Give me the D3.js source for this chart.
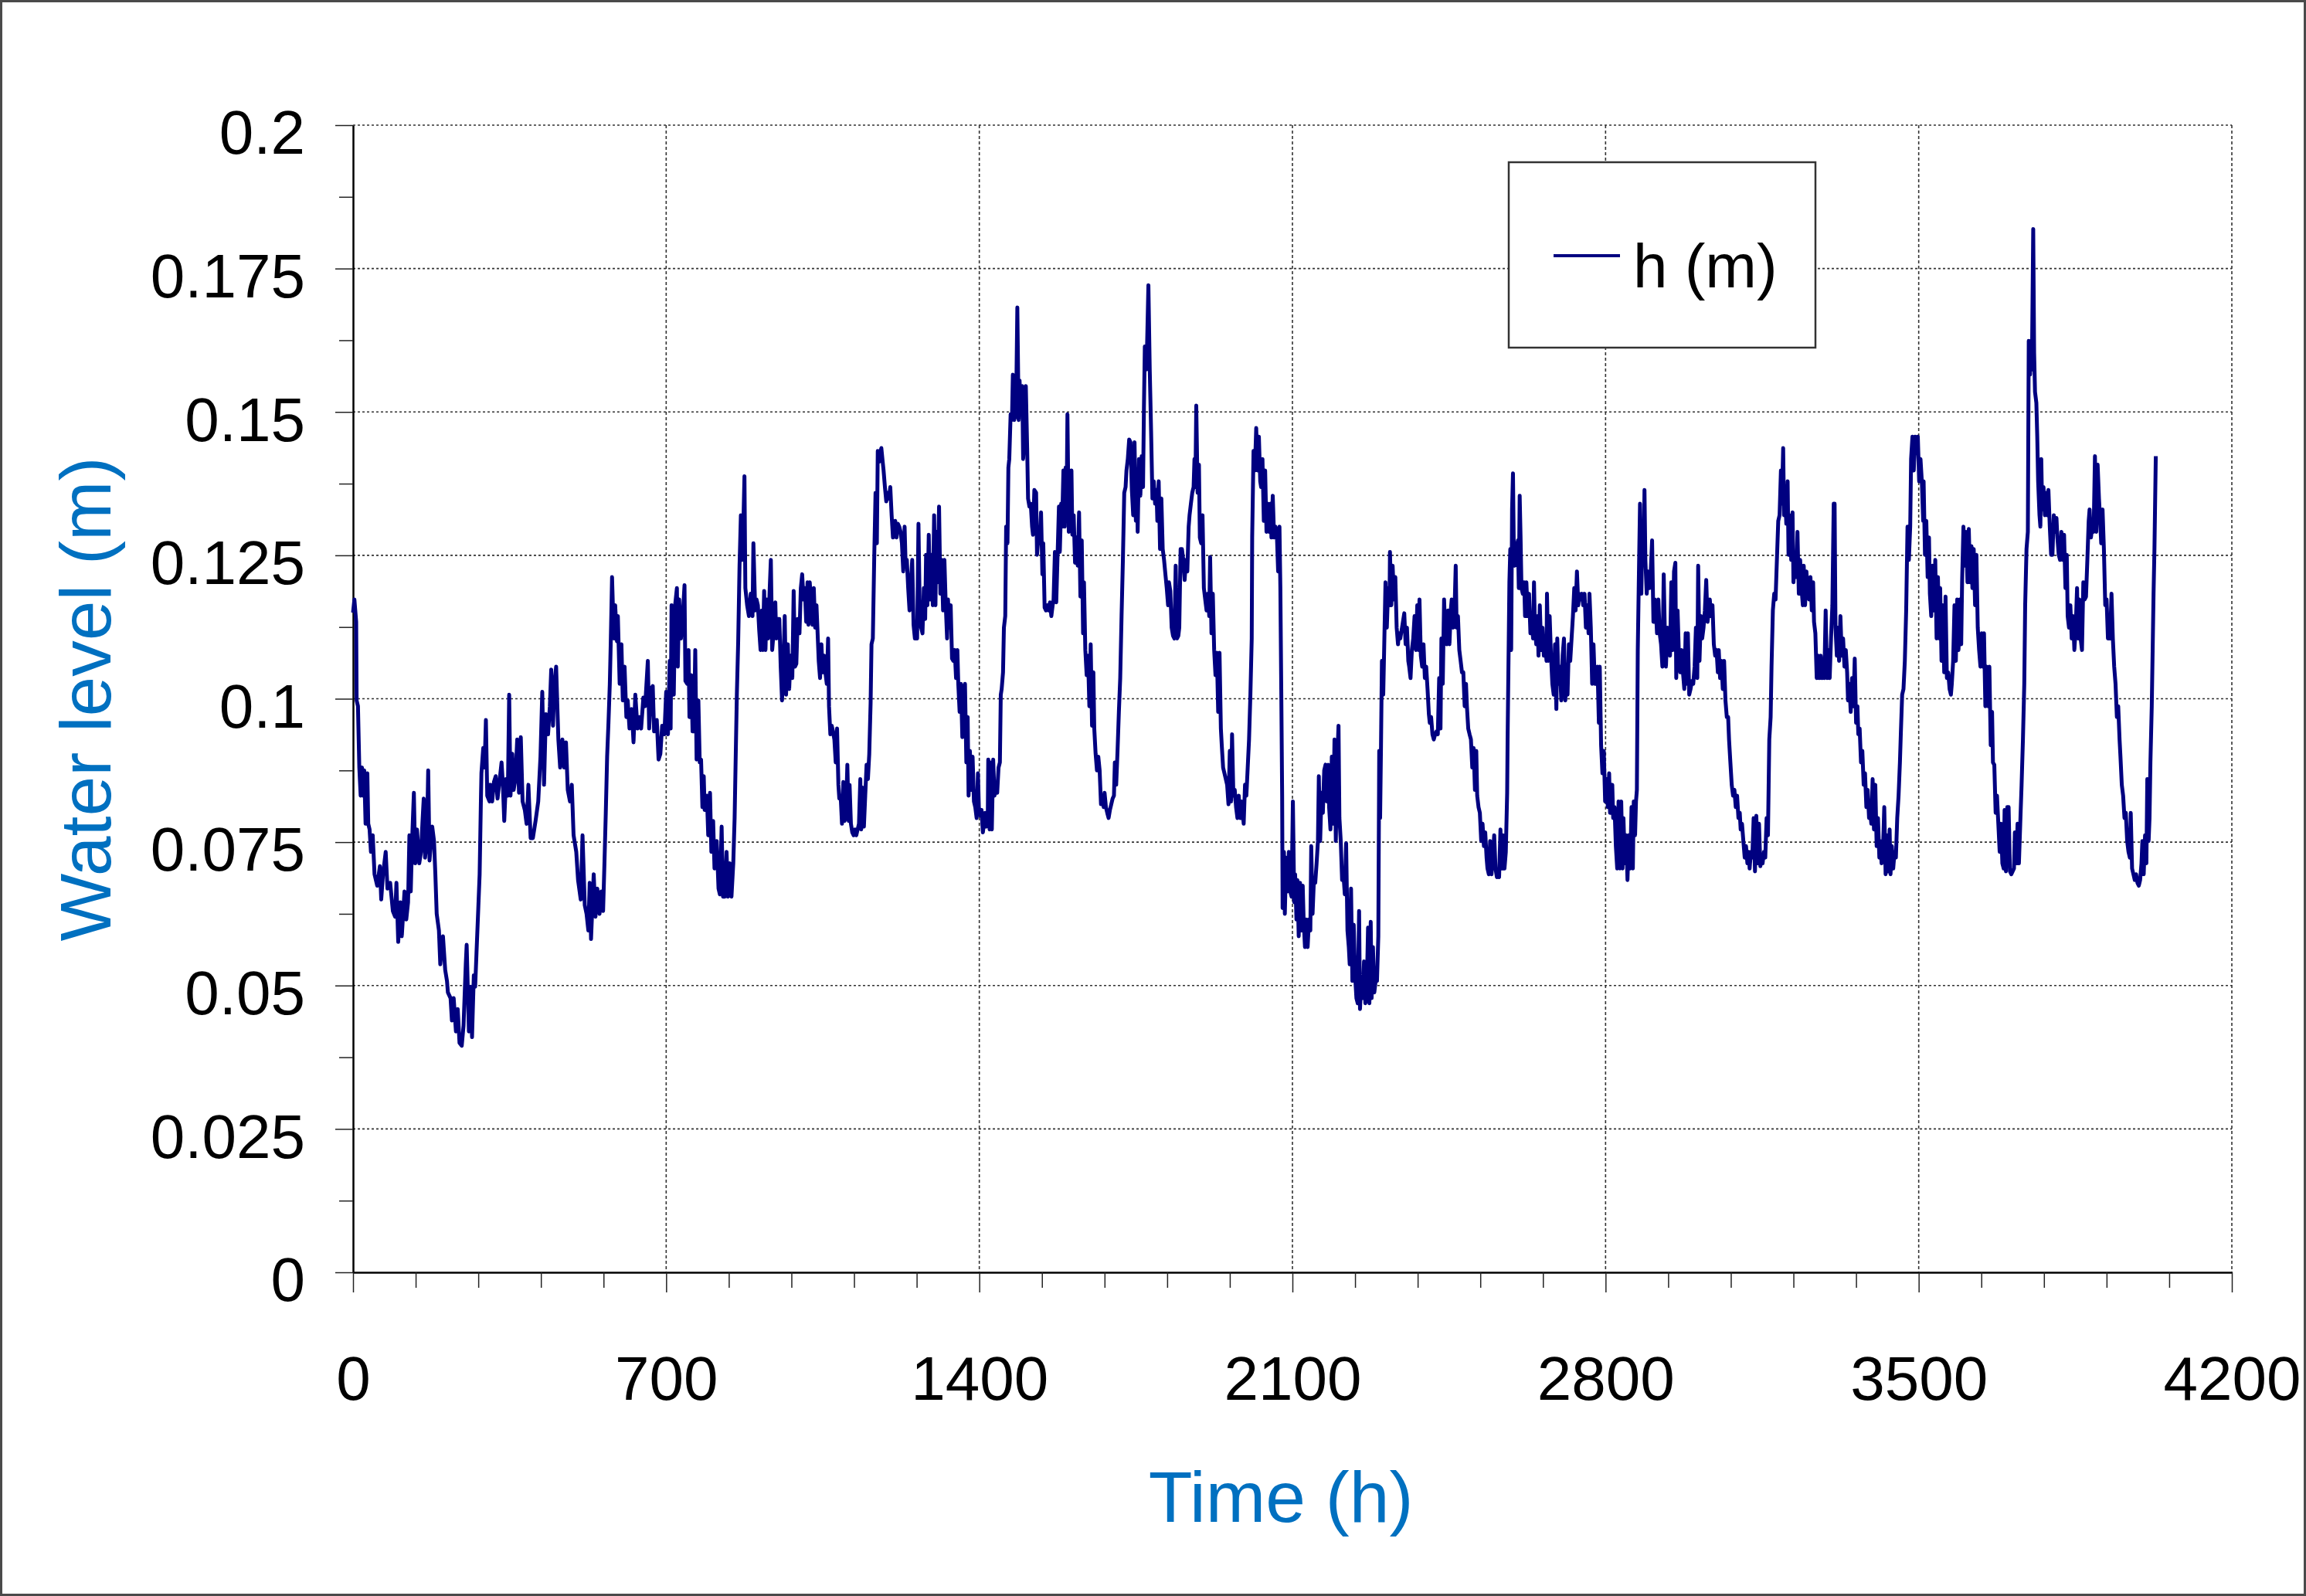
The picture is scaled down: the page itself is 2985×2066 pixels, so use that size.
<!DOCTYPE html>
<html>
<head>
<meta charset="utf-8">
<script src="https://cdn.jsdelivr.net/npm/d3@7"></script>
<style>
  body { margin: 0; background: #fff; }
  text { font-family: "Liberation Sans", Arial, sans-serif; }
</style>
</head>
<body>
<div id="chart"></div>
<script>
// water level record: [time (h), h (m)]
const readings = [
  [0,0.1150],[3,0.1173],[7,0.1134],[8,0.0997],[11,0.0987],[14,0.0880],[17,0.0831],[20,0.0880],[22,0.0831],[25,0.0875],[28,0.0782],[32,0.0870],[34,0.0782],[37,0.0772],[40,0.0733],[44,0.0762],[48,0.0694],[54,0.0674],[60,0.0708],[63,0.0650],[67,0.0694],[73,0.0733],[77,0.0669],[83,0.0679],[89,0.0630],[94,0.0620],[97,0.0679],[101,0.0576],[106,0.0645],[109,0.0586],[115,0.0664],[119,0.0615],[123,0.0645],[126,0.0762],[129,0.0664],[132,0.0752],[136,0.0836],[139,0.0713],[143,0.0772],[148,0.0713],[152,0.0733],[155,0.0782],[158,0.0826],[161,0.0723],[165,0.0752],[168,0.0875],[171,0.0718],[177,0.0777],[181,0.0752],[184,0.0694],[187,0.0625],[192,0.0596],[195,0.0537],[201,0.0586],[206,0.0527],[210,0.0508],[212,0.0488],[218,0.0478],[221,0.0439],[225,0.0478],[230,0.0420],[234,0.0459],[238,0.0400],[243,0.0395],[247,0.0430],[252,0.0537],[254,0.0571],[259,0.0420],[263,0.0498],[266,0.0410],[270,0.0518],[273,0.0498],[276,0.0557],[280,0.0635],[283,0.0694],[286,0.0831],[287,0.0870],[291,0.0914],[294,0.0880],[297,0.0963],[300,0.0831],[305,0.0821],[307,0.0850],[311,0.0821],[315,0.0855],[319,0.0865],[323,0.0826],[328,0.0860],[332,0.0889],[335,0.0850],[338,0.0787],[342,0.0860],[346,0.0831],[349,0.1007],[352,0.0831],[356,0.0904],[359,0.0841],[363,0.0860],[367,0.0929],[371,0.0836],[375,0.0933],[379,0.0821],[384,0.0806],[388,0.0782],[392,0.0850],[397,0.0757],[402,0.0757],[408,0.0787],[414,0.0821],[419,0.0899],[423,0.1012],[427,0.0850],[431,0.0973],[436,0.0938],[440,0.0987],[443,0.1051],[447,0.0953],[450,0.1022],[454,0.1056],[459,0.0929],[463,0.0880],[468,0.0929],[472,0.0880],[476,0.0924],[480,0.0841],[485,0.0821],[489,0.0850],[493,0.0762],[499,0.0733],[503,0.0684],[509,0.0650],[513,0.0762],[518,0.0640],[522,0.0625],[526,0.0596],[529,0.0679],[532,0.0581],[538,0.0694],[542,0.0620],[546,0.0669],[551,0.0625],[555,0.0664],[559,0.0630],[562,0.0713],[565,0.0801],[568,0.0899],[571,0.0958],[574,0.1026],[576,0.1095],[579,0.1212],[583,0.1105],[586,0.1163],[590,0.1100],[592,0.1144],[596,0.1026],[600,0.1095],[603,0.0997],[607,0.1056],[611,0.0968],[614,0.0997],[618,0.0948],[623,0.0982],[627,0.0924],[631,0.1007],[636,0.0948],[640,0.0968],[644,0.0948],[649,0.1002],[653,0.0987],[659,0.1066],[662,0.0948],[666,0.1017],[670,0.1022],[673,0.0943],[679,0.0963],[683,0.0894],[687,0.0904],[691,0.0953],[696,0.0938],[700,0.1012],[704,0.0938],[708,0.1066],[710,0.0948],[712,0.1163],
  [717,0.1007],[720,0.1163],[724,0.1193],[726,0.1056],[729,0.1173],[733,0.1105],[737,0.1144],[741,0.1198],[743,0.1031],[747,0.1026],[750,0.1085],[752,0.0968],[756,0.1041],[759,0.0943],[762,0.0943],[765,0.1085],[768,0.0894],[772,0.0997],[775,0.0889],[778,0.0894],[781,0.0811],[784,0.0865],[786,0.0806],[791,0.0831],[794,0.0762],[798,0.0836],[801,0.0733],[805,0.0787],[808,0.0704],[813,0.0752],[817,0.0669],[820,0.0659],[824,0.0777],[827,0.0655],[831,0.0655],[835,0.0733],[838,0.0655],[842,0.0713],[846,0.0655],[850,0.0713],[853,0.0792],[855,0.0880],[858,0.1007],[861,0.1100],[864,0.1232],[867,0.1320],[870,0.1242],[873,0.1320],[875,0.1388],[877,0.1193],[881,0.1163],[885,0.1144],[889,0.1183],[893,0.1144],[895,0.1271],[899,0.1154],[902,0.1173],[905,0.1163],[908,0.1119],[911,0.1085],[914,0.1154],[916,0.1085],[919,0.1188],[922,0.1085],[925,0.1173],[928,0.1105],[931,0.1183],[934,0.1242],[937,0.1085],[940,0.1114],[944,0.1168],[946,0.1105],[950,0.1139],[953,0.1139],[956,0.1056],[959,0.0997],[962,0.1056],[965,0.1144],[968,0.1007],[972,0.1095],[975,0.1017],[978,0.1075],[982,0.1036],[985,0.1188],[988,0.1056],[991,0.1061],[994,0.1139],[998,0.1114],[1001,0.1193],[1004,0.1217],[1007,0.1173],[1010,0.1193],[1013,0.1134],[1016,0.1203],[1018,0.1129],[1021,0.1203],[1024,0.1163],[1027,0.1129],[1030,0.1193],[1033,0.1124],[1036,0.1163],[1039,0.1105],[1041,0.1066],[1044,0.1036],[1047,0.1095],[1050,0.1046],[1053,0.1075],[1056,0.1046],[1059,0.1026],[1062,0.1105],[1064,0.0987],[1067,0.0938],[1070,0.0953],[1073,0.0943],[1076,0.0929],[1079,0.0889],[1082,0.0948],[1085,0.0850],[1087,0.0826],[1090,0.0831],[1093,0.0782],[1096,0.0855],[1099,0.0787],[1102,0.0801],[1105,0.0885],[1108,0.0787],[1110,0.0850],[1113,0.0782],[1116,0.0767],[1119,0.0762],[1122,0.0772],[1125,0.0762],[1128,0.0772],[1131,0.0782],[1134,0.0860],[1136,0.0772],[1139,0.0845],[1142,0.0777],[1145,0.0831],[1148,0.0885],[1151,0.0860],[1154,0.0904],[1157,0.0992],[1159,0.1095],[1162,0.1105],[1165,0.1242],[1168,0.1359],[1171,0.1271],[1173,0.1432],[1176,0.1413],[1178,0.1428],[1181,0.1437],[1184,0.1413],[1186,0.1398],[1189,0.1369],[1192,0.1344],[1195,0.1359],[1198,0.1349],[1201,0.1369],[1204,0.1320],[1207,0.1281],[1210,0.1300],[1212,0.1310],[1215,0.1281],[1218,0.1305],[1221,0.1300],[1224,0.1291],[1227,0.1271],[1230,0.1222],[1233,0.1300],[1235,0.1242],[1238,0.1242],[1241,0.1193],[1244,0.1154],[1247,0.1203],[1250,0.1242],[1253,0.1129],[1256,0.1105],[1258,0.1124],[1261,0.1105],[1264,0.1305],[1267,0.1144],[1270,0.1124],[1273,0.1114],[1276,0.1193],[1279,0.1139],[1281,0.1251],[1284,0.1163],[1287,0.1286],[1290,0.1173],[1293,0.1251],[1296,0.1163],[1299,0.1320],[1302,0.1163],[1304,0.1291],[1307,0.1203],[1310,0.1335],[1313,0.1183],[1316,0.1242],[1319,0.1154],[1322,0.1242],[1325,0.1163],[1328,0.1105],[1330,0.1173],[1333,0.1124],[1336,0.1163],[1339,0.1070],[1342,0.1066],[1345,0.1085],[1348,0.1036],[1351,0.1085],[1353,0.1026],[1356,0.0977],[1359,0.1026],[1362,0.0933],[1365,0.1007],[1368,0.1026],[1371,0.0889],[1374,0.0968],[1376,0.0831],[1379,0.0909],[1382,0.0841],[1385,0.0899],[1388,0.0821],[1391,0.0811],[1394,0.0792],[1397,0.0870],[1399,0.0811],[1402,0.0796],[1405,0.0806],[1408,0.0767],[1412,0.0792],
  [1413,0.0801],[1416,0.0777],[1419,0.0801],[1420,0.0894],[1423,0.0772],[1425,0.0889],[1428,0.0772],[1431,0.0894],[1434,0.0831],[1437,0.0850],[1440,0.0836],[1443,0.0880],[1446,0.0889],[1448,0.1007],[1450,0.1017],[1453,0.1046],[1455,0.1124],[1458,0.1144],[1460,0.1300],[1463,0.1271],[1465,0.1403],[1467,0.1418],[1470,0.1496],[1473,0.1486],[1475,0.1565],[1478,0.1486],[1481,0.1555],[1482,0.1491],[1485,0.1682],[1488,0.1486],[1490,0.1555],[1493,0.1496],[1496,0.1545],[1498,0.1418],[1501,0.1457],[1504,0.1545],[1507,0.1437],[1509,0.1349],[1512,0.1335],[1515,0.1340],[1518,0.1300],[1520,0.1286],[1523,0.1364],[1527,0.1359],[1529,0.1251],[1532,0.1281],[1535,0.1271],[1538,0.1325],[1541,0.1217],[1543,0.1271],[1546,0.1159],[1549,0.1154],[1552,0.1163],[1555,0.1154],[1558,0.1168],[1561,0.1144],[1564,0.1163],[1566,0.1173],[1569,0.1256],[1572,0.1168],[1575,0.1251],[1578,0.1335],[1580,0.1256],[1583,0.1340],[1585,0.1300],[1588,0.1398],[1591,0.1300],[1593,0.1403],[1595,0.1320],[1597,0.1496],[1600,0.1291],[1603,0.1359],[1606,0.1398],[1608,0.1286],[1611,0.1320],[1614,0.1237],[1617,0.1281],[1620,0.1232],[1623,0.1325],[1626,0.1178],[1629,0.1276],[1632,0.1114],[1634,0.1203],[1637,0.1085],[1640,0.1041],[1643,0.1075],[1646,0.0987],[1649,0.1095],[1652,0.0953],[1655,0.1046],[1657,0.0948],[1660,0.0904],[1663,0.0875],[1666,0.0899],[1669,0.0875],[1672,0.0816],[1675,0.0831],[1678,0.0811],[1680,0.0836],[1683,0.0811],[1686,0.0801],[1689,0.0792],[1692,0.0806],[1695,0.0816],[1698,0.0826],[1701,0.0831],[1703,0.0889],[1706,0.0850],[1709,0.0909],[1712,0.0977],[1715,0.1036],[1718,0.1144],[1721,0.1242],[1724,0.1359],[1727,0.1369],[1729,0.1398],[1732,0.1418],[1735,0.1452],[1738,0.1447],[1741,0.1364],[1744,0.1320],[1747,0.1447],[1750,0.1310],[1752,0.1388],[1754,0.1291],[1757,0.1418],[1760,0.1354],[1763,0.1423],[1766,0.1369],[1768,0.1506],[1770,0.1614],[1773,0.1574],[1775,0.1614],[1778,0.1721],[1781,0.1574],[1784,0.1467],[1787,0.1349],[1790,0.1379],[1793,0.1340],[1796,0.1364],[1798,0.1310],[1801,0.1379],[1804,0.1261],[1807,0.1349],[1810,0.1261],[1813,0.1242],[1816,0.1217],[1819,0.1193],[1822,0.1163],[1824,0.1203],[1827,0.1188],[1830,0.1124],[1833,0.1110],[1836,0.1105],[1839,0.1232],[1842,0.1105],[1845,0.1110],[1847,0.1124],[1850,0.1261],[1853,0.1261],[1856,0.1242],[1859,0.1207],[1862,0.1242],[1865,0.1222],[1868,0.1300],[1870,0.1320],[1873,0.1340],[1876,0.1359],[1879,0.1369],[1881,0.1418],[1883,0.1369],[1885,0.1511],[1888,0.1359],[1891,0.1408],[1893,0.1281],[1896,0.1271],[1899,0.1320],[1902,0.1193],[1905,0.1173],[1908,0.1154],[1911,0.1183],[1914,0.1144],[1916,0.1247],[1919,0.1114],[1922,0.1183],[1925,0.1085],[1928,0.1041],[1931,0.1080],[1934,0.0977],[1937,0.1080],[1940,0.0948],[1942,0.0919],[1945,0.0880],[1948,0.0870],[1951,0.0860],[1954,0.0850],[1957,0.0816],[1960,0.0909],[1963,0.0821],[1965,0.0938],[1968,0.0831],[1971,0.0841],[1974,0.0811],[1977,0.0792],[1980,0.0831],[1983,0.0792],[1986,0.0821],[1988,0.0811],[1991,0.0782],[1994,0.0850],[1997,0.0831],[2000,0.0880],[2003,0.0929],[2006,0.1007],[2009,0.1105],[2010,0.1281],[2013,0.1432],[2016,0.1398],[2019,0.1472],[2022,0.1398],[2025,0.1457],[2028,0.1379],[2030,0.1369],[2033,0.1418],[2036,0.1310],[2039,0.1398],[2042,0.1291],[2045,0.1340],[2048,0.1291],[2051,0.1340],[2053,0.1281],[2056,0.1354],[2059,0.1281],[2062,0.1300],[2065,0.1291],[2068,0.1222],[2071,0.1300],[2073,0.1193],[2075,0.1017],[2077,0.0831],[2078,0.0635],[2081,0.0733],[2083,0.0625],[2086,0.0723],[2089,0.0664],[2092,0.0733],[2095,0.0664],[2098,0.0655],[2101,0.0821],[2104,0.0645],[2106,0.0694],[2109,0.0615],
  [2111,0.0684],[2114,0.0586],[2117,0.0679],[2120,0.0596],[2123,0.0674],[2125,0.0615],[2128,0.0567],[2131,0.0615],[2134,0.0567],[2137,0.0615],[2140,0.0596],[2142,0.0743],[2145,0.0625],[2148,0.0684],[2151,0.0679],[2154,0.0713],[2157,0.0752],[2159,0.0865],[2162,0.0752],[2165,0.0836],[2168,0.0801],[2171,0.0875],[2174,0.0885],[2177,0.0821],[2180,0.0885],[2182,0.0811],[2185,0.0772],[2188,0.0899],[2191,0.0782],[2194,0.0929],[2197,0.0752],[2200,0.0889],[2203,0.0953],[2205,0.0792],[2208,0.0752],[2211,0.0684],[2214,0.0694],[2217,0.0659],[2220,0.0748],[2223,0.0596],[2226,0.0567],[2228,0.0537],[2231,0.0669],[2234,0.0508],[2237,0.0606],[2240,0.0518],[2243,0.0478],[2246,0.0469],[2249,0.0630],[2251,0.0459],[2254,0.0508],[2257,0.0478],[2260,0.0542],[2263,0.0469],[2266,0.0488],[2269,0.0601],[2272,0.0469],[2275,0.0611],[2277,0.0478],[2280,0.0567],[2283,0.0488],[2286,0.0508],[2289,0.0508],[2292,0.0586],[2294,0.0909],[2296,0.0792],[2298,0.0919],[2300,0.1066],[2303,0.1007],[2305,0.1085],[2308,0.1203],[2311,0.1124],[2314,0.1193],[2317,0.1163],[2318,0.1256],[2321,0.1163],[2324,0.1232],[2327,0.1173],[2330,0.1212],[2333,0.1124],[2336,0.1095],[2338,0.1114],[2341,0.1105],[2344,0.1119],[2347,0.1134],[2350,0.1149],[2353,0.1095],[2356,0.1124],[2359,0.1066],[2361,0.1056],[2364,0.1036],[2367,0.1085],[2370,0.1105],[2373,0.1144],[2376,0.1085],[2379,0.1163],[2382,0.1085],[2384,0.1173],[2387,0.1075],[2390,0.1056],[2393,0.1095],[2396,0.1036],[2399,0.1056],[2402,0.1017],[2405,0.0973],[2407,0.0958],[2410,0.0968],[2413,0.0938],[2416,0.0929],[2419,0.0938],[2422,0.0943],[2425,0.0938],[2428,0.1036],[2431,0.0948],[2433,0.1105],[2436,0.1026],[2439,0.1173],[2442,0.1105],[2445,0.1095],[2448,0.1154],[2451,0.1095],[2454,0.1154],[2456,0.1173],[2459,0.1124],[2462,0.1144],[2465,0.1232],[2467,0.1124],[2470,0.1144],[2473,0.1085],[2476,0.1066],[2479,0.1046],[2482,0.1046],[2485,0.0987],[2488,0.1026],[2490,0.0987],[2493,0.0948],[2496,0.0938],[2499,0.0929],[2502,0.0880],[2505,0.0914],[2508,0.0841],[2511,0.0909],[2513,0.0831],[2516,0.0811],[2519,0.0801],[2522,0.0752],[2525,0.0782],[2528,0.0743],[2531,0.0767],[2534,0.0723],[2536,0.0704],[2539,0.0694],[2542,0.0752],[2545,0.0694],[2548,0.0723],[2551,0.0762],[2554,0.0704],[2557,0.0689],[2559,0.0694],[2562,0.0689],[2565,0.0772],[2568,0.0704],[2571,0.0762],[2574,0.0704],[2577,0.0733],[2580,0.0836],[2581,0.0929],[2583,0.1066],[2585,0.1203],[2587,0.1261],[2589,0.1085],[2591,0.1330],[2593,0.1393],[2595,0.1251],[2597,0.1232],[2599,0.1271],[2601,0.1242],[2604,0.1276],[2606,0.1193],[2608,0.1354],[2610,0.1281],[2612,0.1193],[2615,0.1183],[2618,0.1203],[2620,0.1144],[2623,0.1203],[2626,0.1144],[2629,0.1183],[2632,0.1114],[2635,0.1134],[2638,0.1105],[2640,0.1203],[2642,0.1124],[2645,0.1095],[2648,0.1144],[2650,0.1075],[2653,0.1163],[2656,0.1085],[2659,0.1124],[2662,0.1075],[2665,0.1095],[2668,0.1066],[2669,0.1183],[2672,0.1066],[2675,0.1144],[2678,0.1075],[2681,0.1026],[2684,0.1007],[2687,0.1095],[2690,0.0982],[2692,0.1105],[2695,0.1026],[2698,0.1056],[2701,0.0997],[2704,0.1075],[2707,0.1105],[2710,0.0997],[2713,0.1056],[2715,0.1007],[2718,0.1095],[2721,0.1066],[2724,0.1105],[2727,0.1144],[2730,0.1193],[2733,0.1154],[2736,0.1222],[2739,0.1163],[2741,0.1183],[2744,0.1173],[2747,0.1183],[2750,0.1163],[2753,0.1183],[2756,0.1124],[2759,0.1163],[2762,0.1114],[2764,0.1183],[2767,0.1124],[2770,0.1026],[2773,0.1095],[2776,0.1026],[2779,0.1026],[2782,0.1056],[2785,0.0958],[2787,0.1056],[2790,0.0919],[2793,0.0870],[2796,0.0909],[2799,0.0821],[2802,0.0860],[2805,0.0811],[2808,0.0870],[2810,0.0801],
  [2812,0.0816],[2815,0.0850],[2817,0.0792],[2820,0.0811],[2823,0.0743],[2826,0.0704],[2829,0.0821],[2832,0.0704],[2835,0.0821],[2838,0.0704],[2840,0.0792],[2843,0.0713],[2846,0.0762],[2849,0.0684],[2852,0.0762],[2855,0.0704],[2858,0.0811],[2861,0.0704],[2863,0.0821],[2866,0.0762],[2868,0.0821],[2870,0.0841],[2872,0.1085],[2875,0.1242],[2877,0.1340],[2880,0.1183],[2882,0.1281],[2885,0.1242],[2887,0.1364],[2889,0.1242],[2892,0.1183],[2895,0.1222],[2898,0.1193],[2901,0.1222],[2904,0.1276],[2907,0.1134],[2910,0.1173],[2912,0.1163],[2915,0.1114],[2918,0.1173],[2921,0.1114],[2924,0.1095],[2927,0.1056],[2930,0.1217],[2933,0.1095],[2935,0.1056],[2938,0.1124],[2941,0.1105],[2944,0.1075],[2947,0.1203],[2950,0.1085],[2953,0.1222],[2956,0.1237],[2958,0.1036],[2961,0.1154],[2964,0.1075],[2967,0.1046],[2970,0.1085],[2973,0.1046],[2976,0.1017],[2979,0.1114],[2981,0.1026],[2984,0.1114],[2987,0.1007],[2990,0.1017],[2993,0.1031],[2996,0.1026],[2999,0.1056],[3002,0.1124],[3005,0.1036],[3007,0.1232],[3010,0.1066],[3013,0.1144],[3016,0.1105],[3019,0.1124],[3022,0.1154],[3025,0.1207],[3028,0.1134],[3030,0.1149],[3033,0.1173],[3036,0.1144],[3039,0.1163],[3042,0.1095],[3045,0.1075],[3048,0.1085],[3051,0.1046],[3053,0.1085],[3056,0.1036],[3059,0.1066],[3062,0.1017],[3065,0.1066],[3068,0.0997],[3071,0.0968],[3074,0.0968],[3076,0.0929],[3079,0.0889],[3082,0.0850],[3085,0.0831],[3088,0.0841],[3091,0.0811],[3094,0.0831],[3097,0.0792],[3100,0.0801],[3102,0.0772],[3105,0.0782],[3108,0.0752],[3111,0.0723],[3114,0.0743],[3117,0.0713],[3120,0.0733],[3122,0.0704],[3125,0.0733],[3128,0.0723],[3131,0.0792],[3134,0.0699],[3137,0.0796],[3140,0.0713],[3143,0.0782],[3146,0.0708],[3148,0.0723],[3151,0.0713],[3154,0.0733],[3157,0.0723],[3160,0.0792],[3163,0.0762],[3166,0.0929],[3169,0.0968],[3171,0.1056],[3174,0.1154],[3177,0.1183],[3180,0.1173],[3183,0.1242],[3186,0.1310],[3189,0.1320],[3192,0.1398],[3194,0.1340],[3197,0.1437],[3199,0.1320],[3201,0.1369],[3204,0.1305],[3207,0.1379],[3209,0.1251],[3212,0.1320],[3215,0.1242],[3218,0.1325],[3220,0.1203],[3223,0.1242],[3226,0.1212],[3229,0.1291],[3232,0.1183],[3235,0.1242],[3238,0.1193],[3241,0.1163],[3243,0.1232],[3246,0.1163],[3249,0.1222],[3252,0.1183],[3255,0.1173],[3258,0.1212],[3261,0.1154],[3264,0.1203],[3266,0.1134],[3269,0.1114],[3272,0.1036],[3275,0.1075],[3278,0.1036],[3281,0.1075],[3284,0.1036],[3287,0.1066],[3289,0.1036],[3292,0.1154],[3295,0.1036],[3298,0.1085],[3301,0.1036],[3304,0.1105],[3307,0.1163],[3310,0.1340],[3312,0.1340],[3314,0.1124],[3317,0.1075],[3319,0.1124],[3322,0.1066],[3325,0.1144],[3328,0.1075],[3331,0.1105],[3334,0.1056],[3337,0.1085],[3340,0.1046],[3342,0.0997],[3345,0.1026],[3348,0.0977],[3351,0.1036],[3354,0.0987],[3357,0.1070],[3360,0.0958],[3363,0.0987],[3365,0.0938],[3368,0.0948],[3371,0.0889],[3374,0.0909],[3377,0.0850],[3380,0.0870],[3383,0.0811],[3386,0.0841],[3389,0.0792],[3391,0.0811],[3394,0.0782],[3397,0.0860],[3400,0.0772],[3403,0.0850],[3406,0.0743],[3409,0.0792],[3412,0.0723],[3414,0.0752],[3417,0.0713],[3420,0.0733],[3423,0.0811],[3426,0.0694],[3429,0.0762],[3432,0.0699],[3435,0.0772],[3437,0.0694],[3440,0.0743],[3443,0.0704],[3446,0.0733],[3449,0.0723],[3452,0.0792],[3455,0.0831],[3458,0.0889],[3460,0.0938],[3463,0.1007],[3466,0.1017],[3469,0.1066],[3472,0.1154],[3475,0.1300],[3478,0.1242],[3481,0.1300],[3483,0.1418],[3486,0.1457],[3489,0.1398],[3492,0.1457],[3495,0.1428],[3498,0.1457],[3501,0.1379],[3504,0.1418],[3507,0.1379],[3510,0.1310],
  [3511,0.1379],[3514,0.1251],[3517,0.1310],[3520,0.1212],[3523,0.1281],[3525,0.1183],[3528,0.1144],[3531,0.1232],[3534,0.1154],[3537,0.1242],[3540,0.1105],[3543,0.1212],[3546,0.1105],[3548,0.1193],[3551,0.1066],[3554,0.1163],[3557,0.1046],[3560,0.1178],[3563,0.1036],[3566,0.1046],[3569,0.1017],[3572,0.1007],[3574,0.1026],[3577,0.1066],[3580,0.1163],[3583,0.1066],[3586,0.1173],[3589,0.1085],[3592,0.1173],[3595,0.1095],[3597,0.1203],[3600,0.1300],[3603,0.1232],[3606,0.1291],[3609,0.1203],[3612,0.1296],[3615,0.1203],[3618,0.1266],[3620,0.1193],[3623,0.1261],[3626,0.1163],[3629,0.1251],[3632,0.1124],[3635,0.1085],[3638,0.1056],[3641,0.1114],[3643,0.1056],[3646,0.1114],[3649,0.0987],[3652,0.1056],[3655,0.0987],[3658,0.1056],[3661,0.0919],[3664,0.0977],[3666,0.0889],[3669,0.0885],[3672,0.0801],[3675,0.0831],[3678,0.0782],[3681,0.0733],[3684,0.0782],[3687,0.0713],[3690,0.0704],[3692,0.0806],[3695,0.0699],[3698,0.0811],[3701,0.0811],[3704,0.0699],[3707,0.0694],[3710,0.0699],[3713,0.0704],[3715,0.0767],[3718,0.0713],[3721,0.0782],[3724,0.0713],[3727,0.0782],[3730,0.0850],[3733,0.0929],[3736,0.1026],[3738,0.1163],[3741,0.1261],[3744,0.1291],[3746,0.1624],[3749,0.1565],[3751,0.1624],[3753,0.1574],[3756,0.1819],[3758,0.1604],[3760,0.1535],[3763,0.1516],[3765,0.1457],[3767,0.1379],[3770,0.1320],[3772,0.1300],[3774,0.1418],[3776,0.1330],[3779,0.1369],[3782,0.1320],[3785,0.1359],[3787,0.1320],[3790,0.1364],[3793,0.1300],[3796,0.1251],[3799,0.1251],[3802,0.1320],[3805,0.1291],[3808,0.1315],[3810,0.1281],[3813,0.1251],[3816,0.1242],[3819,0.1291],[3822,0.1242],[3825,0.1286],[3828,0.1193],[3831,0.1251],[3833,0.1144],[3836,0.1124],[3839,0.1163],[3842,0.1105],[3845,0.1144],[3848,0.1085],[3851,0.1124],[3854,0.1193],[3856,0.1105],[3859,0.1173],[3862,0.1105],[3865,0.1085],[3868,0.1203],[3871,0.1173],[3874,0.1178],[3877,0.1242],[3880,0.1310],[3882,0.1330],[3885,0.1281],[3888,0.1300],[3891,0.1291],[3894,0.1423],[3897,0.1291],[3900,0.1408],[3903,0.1349],[3905,0.1320],[3908,0.1271],[3911,0.1330],[3914,0.1261],[3917,0.1163],[3920,0.1173],[3923,0.1105],[3926,0.1144],[3928,0.1105],[3931,0.1183],[3934,0.1105],[3937,0.1056],[3940,0.1026],[3943,0.0968],[3946,0.0987],[3949,0.0929],[3951,0.0899],[3954,0.0850],[3957,0.0831],[3960,0.0792],[3963,0.0801],[3966,0.0752],[3969,0.0733],[3972,0.0723],[3974,0.0801],[3977,0.0704],[3980,0.0694],[3983,0.0684],[3986,0.0694],[3989,0.0679],[3992,0.0674],[3995,0.0684],[3998,0.0713],[4000,0.0752],[4003,0.0694],[4006,0.0762],[4009,0.0713],[4011,0.0860],[4014,0.0752],[4016,0.0792],[4018,0.0889],[4021,0.0987],[4023,0.1085],[4025,0.1183],[4027,0.1261],[4030,0.1423]
];

const xTicks = [0, 700, 1400, 2100, 2800, 3500, 4200];
const xTickLabels = ['0', '700', '1400', '2100', '2800', '3500', '4200'];
const yTicks = [0, 0.025, 0.05, 0.075, 0.1, 0.125, 0.15, 0.175, 0.2];
const yTickLabels = ['0', '0.025', '0.05', '0.075', '0.1', '0.125', '0.15', '0.175', '0.2'];
const seriesLabel = 'h (m)';
const xTitle = 'Time (h)';
const yTitle = 'Water level (m)';

const W = 2985, H = 2066;
const margin = { top: 162, right: 96, bottom: 419, left: 457 };
const width = W - margin.left - margin.right;
const height = H - margin.top - margin.bottom;

const root = d3.select('#chart').append('svg')
    .attr('width', W)
    .attr('height', H);

root.append('rect')
    .attr('x', 1.5).attr('y', 1.5)
    .attr('width', W - 3).attr('height', H - 3)
    .attr('fill', '#fff')
    .attr('stroke', '#4a4a4a')
    .attr('stroke-width', 3);

const svg = root.append('g')
    .attr('transform', `translate(${margin.left},${margin.top})`);

const x = d3.scaleLinear().domain([0, 4200]).range([0, width]);
const y = d3.scaleLinear().domain([0, 0.2]).range([height, 0]);

// grid
svg.append('g').selectAll('line')
    .data(yTicks.slice(1))
    .enter().append('line')
    .attr('x1', 0).attr('x2', width)
    .attr('y1', d => y(d)).attr('y2', d => y(d))
    .attr('stroke', '#333')
    .attr('stroke-width', 1.6)
    .attr('stroke-dasharray', '3,3');

svg.append('g').selectAll('line')
    .data(xTicks.slice(1))
    .enter().append('line')
    .attr('x1', d => x(d)).attr('x2', d => x(d))
    .attr('y1', 0).attr('y2', height)
    .attr('stroke', '#333')
    .attr('stroke-width', 1.6)
    .attr('stroke-dasharray', '4,3');

// Y axis
const yAxis = svg.append('g')
    .call(d3.axisLeft(y).tickValues(yTicks).tickSize(23).tickSizeOuter(0).tickPadding(39)
        .tickFormat((d, i) => yTickLabels[i]));
yAxis.append('g')
    .call(d3.axisLeft(y).tickValues(d3.range(1, 16, 2).map(k => k * 0.0125)).tickSize(18).tickFormat(''))
    .select('.domain').remove();

// X axis
const xAxis = svg.append('g')
    .attr('transform', `translate(0,${height})`)
    .call(d3.axisBottom(x).tickValues(xTicks).tickSize(26).tickSizeOuter(0).tickPadding(82)
        .tickFormat((d, i) => xTickLabels[i]));
xAxis.append('g')
    .call(d3.axisBottom(x).tickValues(d3.range(0, 4201, 140).filter(v => v % 700 !== 0)).tickSize(20).tickFormat(''))
    .select('.domain').remove();

svg.selectAll('.domain').attr('stroke', '#000').attr('stroke-width', 2.5);
svg.selectAll('.tick line').attr('stroke', '#222').attr('stroke-width', 1.5);
svg.selectAll('.tick text')
    .attr('font-size', 80)
    .attr('font-family', '"Liberation Sans", Arial, sans-serif')
    .attr('fill', '#000');
yAxis.selectAll('.tick text').attr('dy', '0.46em');

// series
svg.append('path')
    .datum(readings)
    .attr('fill', 'none')
    .attr('stroke', '#000080')
    .attr('stroke-width', 5)
    .attr('stroke-linejoin', 'round')
    .attr('d', d3.line()
        .x(d => x(d[0]))
        .y(d => y(d[1]))
    );

// legend
const legend = svg.append('g')
    .attr('transform', 'translate(1496,48)');
legend.append('rect')
    .attr('width', 397).attr('height', 240)
    .attr('fill', '#fff')
    .attr('stroke', '#333')
    .attr('stroke-width', 2.5);
legend.append('line')
    .attr('x1', 58).attr('x2', 144)
    .attr('y1', 121).attr('y2', 121)
    .attr('stroke', '#000080')
    .attr('stroke-width', 4);
legend.append('text')
    .attr('x', 161).attr('y', 162)
    .attr('font-size', 80)
    .attr('fill', '#000')
    .text(seriesLabel);

// axis titles
root.append('text')
    .attr('transform', 'translate(143,905) rotate(-90)')
    .attr('text-anchor', 'middle')
    .attr('font-size', 93)
    .attr('fill', '#0070c0')
    .text(yTitle);

root.append('text')
    .attr('x', 1658).attr('y', 1970)
    .attr('text-anchor', 'middle')
    .attr('font-size', 93)
    .attr('fill', '#0070c0')
    .text(xTitle);
</script>
</body>
</html>
